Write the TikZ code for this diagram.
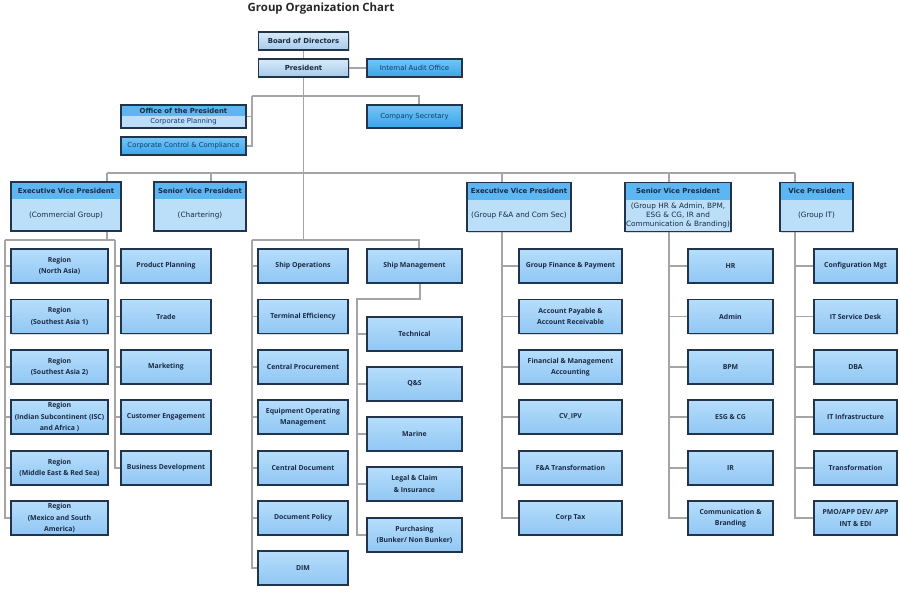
\documentclass[tikz,border=0pt]{standalone}
\usepackage{fontspec}
\setmainfont{Open Sans}
\newfontfamily\vfont{DejaVu Sans}
\usetikzlibrary{calc,shadows}
\pgfdeclarelayer{bg}
\pgfsetlayers{bg,main}
\definecolor{bordc}{HTML}{22344C}
\definecolor{linec}{HTML}{A5A5A5}
\definecolor{txtc}{HTML}{1B2A44}
\definecolor{audtxt}{HTML}{0F3C6E}
\definecolor{ltop}{HTML}{B6DDFB}
\definecolor{lbot}{HTML}{90C7F4}
\definecolor{gtop}{HTML}{D8EAF8}
\definecolor{gbot}{HTML}{A6CAEA}
\definecolor{mtop}{HTML}{74C6F6}
\definecolor{mbot}{HTML}{3AA4EA}
\definecolor{hdrc}{HTML}{5BB6F1}
\definecolor{bodyc}{HTML}{BBDFF8}
\tikzset{
  conn/.style={draw=linec, line width=1.1pt},
  basebox/.style={rectangle, draw=bordc, line width=1.2pt, inner sep=1pt, align=center,
    text=txtc, drop shadow={shadow xshift=1pt, shadow yshift=-1pt, opacity=0.3}},
  topbox/.style={basebox, top color=gtop, bottom color=gbot, minimum height=18pt,
    font=\vfont\bfseries\fontsize{6.9}{8}\selectfont},
  audbox/.style={basebox, top color=mtop, bottom color=mbot, text=audtxt,
    font=\vfont\fontsize{6.9}{8}\selectfont},
  lbox/.style={basebox, top color=ltop, bottom color=lbot, minimum height=34pt,
    font=\bfseries\fontsize{6.9}{11.5}\selectfont},
  vpbox/.style={basebox, fill=bodyc, minimum height=49pt,
    path picture={\fill[hdrc] (path picture bounding box.north west) rectangle
      ([yshift=-17pt]path picture bounding box.north east);}},
  vphead/.style={inner sep=0pt, text=txtc, font=\vfont\bfseries\fontsize{6.9}{8}\selectfont},
  vpsub/.style={inner sep=0pt, align=center, text=txtc, font=\vfont\fontsize{7.3}{9.4}\selectfont},
}
\begin{document}
\begin{tikzpicture}[x=1pt,y=-1pt]
\useasboundingbox (0,0) rectangle (900,614);
\node[font=\bfseries\fontsize{11.4}{13}\selectfont, text=black!85] (title) at (321,8.5) {Group Organization Chart};

% top level
\node[topbox, minimum width=90pt] (board) at (303.5,41) {Board of Directors};
\node[topbox, minimum width=90pt] (pres) at (303.5,68) {President};
\node[audbox, minimum width=95pt, minimum height=18pt] (audit) at (414.5,68) {Internal Audit Office};
\node[audbox, minimum width=95pt, minimum height=23pt] (csec) at (414.5,116.5) {Company Secretary};
\node[audbox, minimum width=125pt, minimum height=18pt] (ccc) at (183.5,146) {Corporate Control \& Compliance};
\node[basebox, fill=bodyc, minimum width=125pt, minimum height=23pt,
  path picture={\fill[hdrc] (path picture bounding box.north west) rectangle
      ([yshift=-11pt]path picture bounding box.north east);}] (opres) at (183.5,116.5) {};
\node[vphead] (opresh) at (183.5,110.5) {Office of the President};
\node[inner sep=0pt, text=audtxt, font=\vfont\fontsize{6.9}{8}\selectfont] (opress) at (183.5,122) {Corporate Planning};

% VP row
\node[vpbox, minimum width=110pt] (evpc) at (66,206.5) {};
\node[vphead] (evpch) at (66,190.5) {Executive Vice President};
\node[vpsub] (evpcs) at (66,215) {(Commercial Group)};
\node[vpbox, minimum width=92pt] (svpc) at (200,206.5) {};
\node[vphead] (svpch) at (200,190.5) {Senior Vice President};
\node[vpsub] (svpcs) at (200,215) {(Chartering)};
\node[vpbox, minimum width=104pt] (evpf) at (519,207) {};
\node[vphead] (evpfh) at (519,191) {Executive Vice President};
\node[vpsub] (evpfs) at (519,215.5) {(Group F\&A and Com Sec)};
\node[vpbox, minimum width=106pt] (svph) at (678,207) {};
\node[vphead] (svphh) at (678,191) {Senior Vice President};
\node[vpsub] (svphs) at (678,215.5) {(Group HR \& Admin, BPM,\\ESG \& CG, IR and\\Communication \& Branding)};
\node[vpbox, minimum width=73pt] (vpit) at (816.5,207) {};
\node[vphead] (vpith) at (816.5,191) {Vice President};
\node[vpsub] (vpits) at (816.5,215.5) {(Group IT)};

% Commercial
\node[lbox, minimum width=97pt] (r1) at (59.5,266) {Region\\(North Asia)};
\node[lbox, minimum width=97pt] (r2) at (59.5,316.5) {Region\\(Southest Asia 1)};
\node[lbox, minimum width=97pt] (r3) at (59.5,367) {Region\\(Southest Asia 2)};
\node[lbox, minimum width=97pt] (r4) at (59.5,417) {Region\\(Indian Subcontinent (ISC)\\and Africa )};
\node[lbox, minimum width=97pt] (r5) at (59.5,468) {Region\\(Middle East \& Red Sea)};
\node[lbox, minimum width=97pt] (r6) at (59.5,518) {Region\\(Mexico and South\\America)};
\node[lbox, minimum width=90pt] (c1) at (166,266) {Product Planning};
\node[lbox, minimum width=90pt] (c2) at (166,316.5) {Trade};
\node[lbox, minimum width=90pt] (c3) at (166,367) {Marketing};
\node[lbox, minimum width=90pt] (c4) at (166,417) {Customer Engagement};
\node[lbox, minimum width=90pt] (c5) at (166,468) {Business Development};

% Middle
\node[lbox, minimum width=90pt] (m1) at (303,266) {Ship Operations};
\node[lbox, minimum width=90pt] (m2) at (303,316.5) {Terminal Efficiency};
\node[lbox, minimum width=90pt] (m3) at (303,367) {Central Procurement};
\node[lbox, minimum width=90pt] (m4) at (303,417) {Equipment Operating\\Management};
\node[lbox, minimum width=90pt] (m5) at (303,468) {Central Document};
\node[lbox, minimum width=90pt] (m6) at (303,518) {Document Policy};
\node[lbox, minimum width=90pt] (m7) at (303,568) {DIM};
\node[lbox, minimum width=95pt] (sm) at (414.5,266) {Ship Management};
\node[lbox, minimum width=95pt] (s1) at (414.5,334) {Technical};
\node[lbox, minimum width=95pt] (s2) at (414.5,384) {Q\&S};
\node[lbox, minimum width=95pt] (s3) at (414.5,434) {Marine};
\node[lbox, minimum width=95pt] (s4) at (414.5,484) {Legal \& Claim\\\& Insurance};
\node[lbox, minimum width=95pt] (s5) at (414.5,535) {Purchasing\\(Bunker/ Non Bunker)};

% F&A
\node[lbox, minimum width=103pt] (f1) at (570.5,266) {Group Finance \& Payment};
\node[lbox, minimum width=103pt] (f2) at (570.5,316.5) {Account Payable \&\\Account Receivable};
\node[lbox, minimum width=103pt] (f3) at (570.5,367) {Financial \& Management\\Accounting};
\node[lbox, minimum width=103pt] (f4) at (570.5,417) {CV\_IPV};
\node[lbox, minimum width=103pt] (f5) at (570.5,468) {F\&A Transformation};
\node[lbox, minimum width=103pt] (f6) at (570.5,518) {Corp Tax};

% HR
\node[lbox, minimum width=85pt] (h1) at (730.5,266) {HR};
\node[lbox, minimum width=85pt] (h2) at (730.5,316.5) {Admin};
\node[lbox, minimum width=85pt] (h3) at (730.5,367) {BPM};
\node[lbox, minimum width=85pt] (h4) at (730.5,417) {ESG \& CG};
\node[lbox, minimum width=85pt] (h5) at (730.5,468) {IR};
\node[lbox, minimum width=85pt] (h6) at (730.5,518) {Communication \&\\Branding};

% IT
\node[lbox, minimum width=83pt] (i1) at (855.5,266) {Configuration Mgt};
\node[lbox, minimum width=83pt] (i2) at (855.5,316.5) {IT Service Desk};
\node[lbox, minimum width=83pt] (i3) at (855.5,367) {DBA};
\node[lbox, minimum width=83pt] (i4) at (855.5,417) {IT Infrastructure};
\node[lbox, minimum width=83pt] (i5) at (855.5,468) {Transformation};
\node[lbox, minimum width=83pt] (i6) at (855.5,518) {PMO/APP DEV/ APP\\INT \& EDI};

% junction coordinates
\coordinate (ol) at (252,96);
\coordinate (or) at (419,96);
\coordinate (b1) at (107,173);
\coordinate (b2) at (211,173);
\coordinate (b3) at (502,173);
\coordinate (b4) at (669,173);
\coordinate (b5) at (795,173);
\coordinate (mj) at (303.5,240);
\coordinate (cl) at (5,240);
\coordinate (cr) at (115,240);
\coordinate (ml) at (252,240);
\coordinate (mr) at (419,240);
\coordinate (smj) at (420,299);
\coordinate (sl) at (357,299);

\begin{pgfonlayer}{bg}
\draw[conn] (board.south) -- (pres.south);
\draw[conn] (pres.east) -- (audit.west);
\draw[conn] (pres.south) -- (mj);
\draw[conn] (ol) -- (or) -- (or |- csec.north);
\draw[conn] (ol) |- (ccc.east);
\draw[conn] (opres.east -| ol) -- (opres.east);
\draw[conn] (b1) -- (b5);
\draw[conn] (b1) -- (b1 |- evpc.north);
\draw[conn] (b2) -- (b2 |- svpc.north);
\draw[conn] (b3) -- (b3 |- evpf.north);
\draw[conn] (b4) -- (b4 |- svph.north);
\draw[conn] (b5) -- (b5 |- vpit.north);
% commercial
\draw[conn] (b1 |- evpc.south) -- (b1 |- cl);
\draw[conn] (cl) -- (cr);
\draw[conn] (cl) |- (r6.west);
\foreach \n in {r1,r2,r3,r4,r5} \draw[conn] (\n.west -| cl) -- (\n.west);
\draw[conn] (cr) |- (c5.west);
\foreach \n in {c1,c2,c3,c4} \draw[conn] (\n.west -| cr) -- (\n.west);
% middle
\draw[conn] (ml) -- (mr) -- (mr |- sm.north);
\draw[conn] (ml) |- (m7.west);
\foreach \n in {m1,m2,m3,m4,m5,m6} \draw[conn] (\n.west -| ml) -- (\n.west);
\draw[conn] (smj |- sm.south) -- (smj) -- (sl) |- (s5.west);
\foreach \n in {s1,s2,s3,s4} \draw[conn] (\n.west -| sl) -- (\n.west);
% F&A
\draw[conn] (b3 |- evpf.south) |- (f6.west);
\foreach \n in {f1,f2,f3,f4,f5} \draw[conn] (\n.west -| b3) -- (\n.west);
% HR
\draw[conn] (b4 |- svph.south) |- (h6.west);
\foreach \n in {h1,h2,h3,h4,h5} \draw[conn] (\n.west -| b4) -- (\n.west);
% IT
\draw[conn] (b5 |- vpit.south) |- (i6.west);
\foreach \n in {i1,i2,i3,i4,i5} \draw[conn] (\n.west -| b5) -- (\n.west);
\end{pgfonlayer}
\end{tikzpicture}
\end{document}
